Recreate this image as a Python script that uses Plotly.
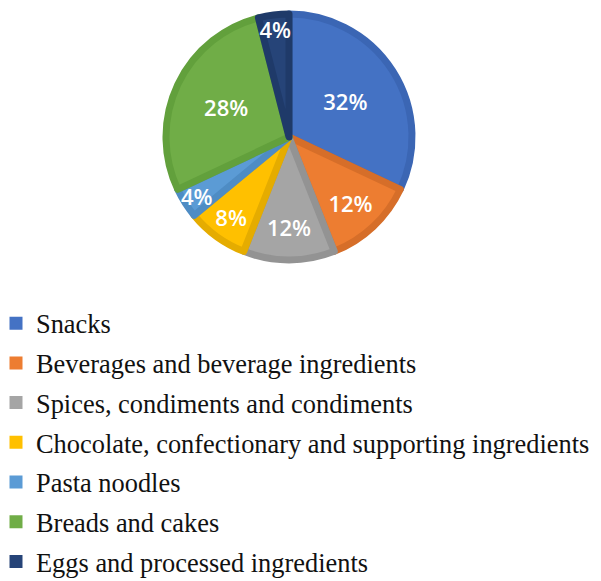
import plotly.graph_objects as go

labels = ["Snacks", "Beverages and beverage ingredients", "Spices, condiments and condiments",
          "Chocolate, confectionary and supporting ingredients", "Pasta noodles",
          "Breads and cakes", "Eggs and processed ingredients"]
values = [32, 12, 12, 8, 4, 28, 4]
colors = ["#4472C4", "#ED7D31", "#A5A5A5", "#FFC000", "#5B9BD5", "#70AD47", "#264478"]
edge_colors = ["#3B66B4", "#D66E29", "#939393", "#E5AC00", "#4E8CC4", "#62A03C", "#1F3A69"]

fig = go.Figure()
fig.add_trace(go.Pie(
    labels=labels, values=values, sort=False, direction="clockwise", rotation=0,
    marker=dict(colors=colors, line=dict(color=edge_colors, width=7)),
    textinfo="percent", textposition="inside", insidetextorientation="horizontal",
    textfont=dict(family="Open Sans", size=22, color="white", weight=600),
    domain=dict(x=[166/601, 412/601], y=[(581-260)/581, (581-14)/581]),
    showlegend=False,
))
for lab, col in zip(labels, colors):
    fig.add_trace(go.Scatter(
        x=[None], y=[None], mode="markers", name=lab, legendgroup=lab,
        marker=dict(symbol="square", size=13, color=col, line=dict(width=0)),
        showlegend=True, hoverinfo="skip",
    ))
fig.update_layout(
    width=601, height=581, margin=dict(l=0, r=0, t=0, b=0, autoexpand=False),
    paper_bgcolor="white", plot_bgcolor="white",
    uniformtext=dict(mode="show", minsize=22),
    xaxis=dict(visible=False), yaxis=dict(visible=False),
    legend=dict(x=-4/601, xanchor="left", y=(581-299.5)/581, yanchor="top",
                font=dict(family="Liberation Serif", size=26.4, color="#111111"),
                bgcolor="rgba(0,0,0,0)", traceorder="grouped", tracegroupgap=2.4),
)
fig.write_html("out.html")
